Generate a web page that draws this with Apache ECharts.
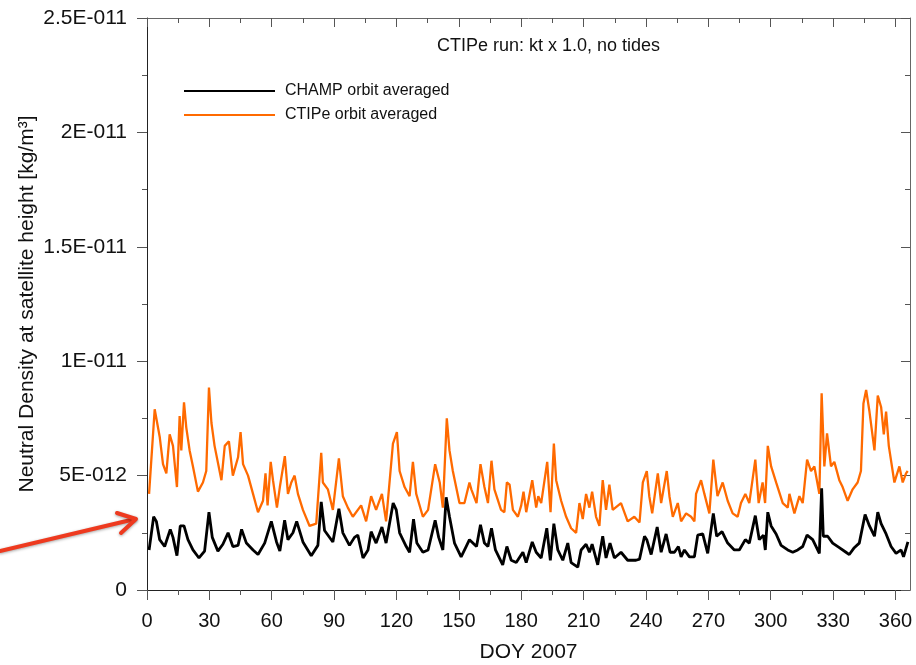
<!DOCTYPE html>
<html><head><meta charset="utf-8">
<script src="https://cdn.jsdelivr.net/npm/echarts@6/dist/echarts.min.js"></script>
<style>html,body{margin:0;padding:0;background:#fff}#c{width:916px;height:665px}</style>
</head><body><div id="c"></div>
<script>
const FONT = '"Liberation Sans", Arial, Helvetica, sans-serif';

// Tick definitions
const xMajorTicks = [0,30,60,90,120,150,180,210,240,270,300,330,360];
const xMinorTicks = [15,45,75,105,135,165,195,225,255,285,315,345];
const yTickValues = [0,5,10,15,20,25];            // in units of 1E-012
const yTickLabels = ['0','5E-012','1E-011','1.5E-011','2E-011','2.5E-011'];

// CTIPe orbit averaged (values in 1E-012 kg/m^3)
const ctipeDays = [1,3.7,6.1,7.7,9.3,10.9,12.5,14.4,15.7,16.5,17.8,18.9,20.5,22.1,24.5,26.9,28.5,29.8,31,32.5,35.8,37.4,39.4,41.3,43.8,45,46.2,48.6,51,53.4,55.8,57,58,59.5,60.6,62.5,63.9,66.3,67.8,69.4,71,72.6,75,78.2,81.4,83.8,84.6,87,89.4,92.3,94.2,96.6,99,103,105.4,107.8,110.2,113,115,118.3,120.2,121.5,123.9,126.3,127.9,129.5,132.7,135.2,138.6,140.8,142.3,144.2,145.5,147.1,150.3,152.7,155.1,156,158.5,160.4,162.3,164,165.7,167.1,170.3,171.9,173.1,174.4,176,178.4,180,181.1,182.4,185.3,187.2,188.2,189.6,192.5,194.1,195.7,196.8,199.2,201.6,204,206.4,208,209.6,211.2,212.8,214.1,216,217.6,219.2,220.8,222.4,224,228,231.2,234.4,236.9,238.5,240.4,241.6,243,245.7,247.3,250,251.3,252.9,255.3,256.9,259.3,261.7,263.3,264.1,266.5,268.1,270.5,272.4,274.4,276.9,279.3,281.7,284.1,285.7,287.8,289.7,292.6,294.2,296.1,297.3,298.6,300.2,302.6,305.8,308.2,309,311.4,313.8,315.4,317.5,319.4,321,323.4,324.5,325.8,327.1,329,330.6,333,334.6,337,339.4,341.8,343.4,344.6,345.9,347.5,349.9,351.5,353.1,354.4,355.5,356.8,359.5,361.9,363.5,365.1,365.9];
const ctipeVals = [4.2,7.9,6.7,5.5,5.1,6.8,6.3,4.5,7.6,6.1,8.2,7.1,6.1,5.4,4.3,4.7,5.2,8.85,7.3,6.3,4.8,6.3,6.5,5.0,5.8,6.9,5.5,5.0,4.2,3.4,3.9,5.1,3.7,5.6,4.8,3.6,4.5,5.85,4.2,4.7,5.0,4.2,3.5,2.8,2.9,6.0,4.7,4.4,3.5,5.75,4.1,3.6,3.2,3.7,3.0,4.1,3.5,4.2,3.0,6.4,6.9,5.2,4.5,4.1,5.6,4.2,3.2,3.5,5.5,4.7,3.6,7.5,6.1,5.2,3.8,3.8,4.7,4.4,3.8,5.5,4.5,3.8,5.65,4.4,3.5,3.4,4.7,4.6,3.5,3.2,3.7,4.3,3.4,4.8,3.6,4.1,3.8,5.6,3.4,6.4,4.8,3.9,3.2,2.7,2.5,3.8,3.1,4.2,3.6,4.3,3.2,2.8,4.8,3.5,4.6,3.5,3.8,3.0,3.2,2.95,4.7,5.2,4.1,3.35,5.1,3.8,5.2,4.1,3.2,3.8,3.0,3.35,3.2,3.0,4.2,4.8,4.2,3.35,5.7,4.1,4.7,3.9,3.35,3.2,3.8,4.2,3.8,5.7,3.8,4.7,3.8,6.3,5.4,4.7,3.8,3.6,4.2,3.35,4.1,3.8,5.7,5.2,5.4,4.2,8.6,5.4,6.85,5.4,5.6,4.8,4.5,3.9,4.4,4.7,5.2,8.15,8.74,7.8,6.1,8.5,8.0,6.8,7.8,6.3,4.7,5.4,4.7,5.1,5.2];

// CHAMP orbit averaged (values in 1E-012 kg/m^3)
const champDays = [1,3.2,4.5,6.1,8.5,11.2,12.5,14.4,16,17.8,19.7,22.1,25,27.7,29.8,31.4,34.1,36.5,39,41.3,43.8,45.5,47.8,51,53.4,56.6,59.8,62.3,63.9,66.2,67.8,70.2,72,75,79,82.2,83.8,85.4,89.4,92.3,94.2,97.4,99.8,101.4,103.9,106.3,107.8,110.2,113,115,118.4,119.9,121.5,124.7,126.3,128.2,129.8,132.7,135.2,138.6,140.3,142.3,143.9,145.5,147.9,151.1,153.5,155.1,158.5,160.4,162.3,164,165.7,167.6,171.1,173.1,175.2,177.6,180.8,182.4,185.3,187.2,189.6,192.3,194,195.7,197.6,200,202.4,204,207.2,208.8,211.2,212.8,214.1,216.8,219.2,220.8,222.7,224.8,228,231.2,235.2,236.9,239.3,240.4,242.5,245.4,247.3,249.7,251.6,253.7,255.6,256.9,258.5,260.9,263.3,264.9,267.3,269.7,272.4,274,276.6,279.3,282.5,284.9,287.8,289.7,292.6,294.5,296.5,297.4,298.6,300.2,302.6,305,308.2,310.6,313,315.4,317.5,320.2,323.4,324.5,325.3,327.4,329.8,333,336.2,337.8,340.2,342.6,345.4,347.5,349.9,351.5,353.1,355.5,357.9,360.3,362.7,363.9,366];
const champVals = [1.75,3.2,3.0,2.2,1.9,2.65,2.3,1.5,2.8,2.8,2.2,1.75,1.4,1.7,3.4,2.3,1.7,2.0,2.5,1.9,1.95,2.65,2.05,1.75,1.55,2.05,3.0,2.1,1.7,3.05,2.2,2.5,3.0,2.1,1.5,1.95,3.85,2.6,2.1,3.55,2.5,1.95,2.3,2.4,1.4,1.75,2.55,2.05,2.75,2.05,3.8,3.5,2.5,1.9,1.65,3.1,2.05,1.65,1.75,3.05,2.3,1.75,4.05,3.2,2.05,1.45,1.9,2.2,1.9,2.85,2.05,1.9,2.7,1.75,1.1,1.9,1.3,1.2,1.65,1.2,2.1,1.65,1.4,2.7,1.3,2.9,1.75,1.3,2.05,1.2,1.0,1.75,2.0,1.65,2.0,1.1,2.35,1.4,2.05,1.4,1.65,1.3,1.3,1.35,2.35,2.2,1.55,2.75,1.65,2.45,1.65,1.65,1.9,1.45,1.75,1.45,1.45,2.4,2.45,1.6,3.35,2.35,2.55,2.05,1.75,1.75,2.2,2.05,3.25,2.2,2.4,1.75,3.4,2.8,2.45,1.95,1.75,1.65,1.75,1.9,2.4,2.2,1.6,4.45,2.35,2.35,2.05,1.85,1.65,1.55,1.85,2.05,3.3,2.8,2.35,3.4,2.9,2.45,1.9,1.6,1.75,1.45,2.1];

const zip = (a, b) => a.map((d, i) => [d, b[i]]);

const chart = echarts.init(document.getElementById('c'), null, {renderer: 'canvas'});
const axisDark = '#222', axisGray = '#666', tickCol = '#555';

const option = {
  animation: false,
  backgroundColor: '#fff',
  textStyle: {fontFamily: FONT},
  title: {
    text: 'CTIPe run: kt x 1.0, no tides',
    left: 432, top: 32,
    textStyle: {fontFamily: FONT, fontSize: 18, fontWeight: 'normal', color: '#111'}
  },
  legend: {
    data: ['CHAMP orbit averaged', 'CTIPe orbit averaged'],
    orient: 'vertical',
    left: 178, top: 78,
    itemWidth: 91, itemHeight: 14, itemGap: 8,
    itemStyle: {opacity: 0},
    textStyle: {fontFamily: FONT, fontSize: 16, color: '#111', padding: [0, 0, 0, 5]}
  },
  grid: {left: 147, right: 6, top: 18, bottom: 75, containLabel: false, outerBoundsMode: 'none'},
  xAxis: [
    {
      type: 'value', position: 'bottom', min: 0, max: 367, interval: 30,
      axisLine: {show: true, onZero: false, lineStyle: {color: axisDark, width: 1}},
      axisTick: {show: true, customValues: xMajorTicks, length: 10, lineStyle: {color: tickCol}},
      axisLabel: {customValues: xMajorTicks, fontFamily: FONT, fontSize: 20, color: '#111', margin: 21},
      splitLine: {show: false},
      name: 'DOY 2007', nameLocation: 'middle', nameGap: 52, nameMoveOverlap: false,
      nameTextStyle: {fontFamily: FONT, fontSize: 21, color: '#111'}
    },
    {
      type: 'value', position: 'bottom', min: 0, max: 367,
      axisLine: {show: false, onZero: false},
      axisTick: {show: true, customValues: xMinorTicks, length: 5, lineStyle: {color: tickCol}},
      axisLabel: {show: false}, splitLine: {show: false}
    },
    {
      type: 'value', position: 'top', min: 0, max: 367,
      axisLine: {show: true, onZero: false, lineStyle: {color: axisGray, width: 1}},
      axisTick: {show: true, inside: true, customValues: xMajorTicks, length: 9, lineStyle: {color: tickCol}},
      axisLabel: {show: false}, splitLine: {show: false}
    },
    {
      type: 'value', position: 'top', min: 0, max: 367,
      axisLine: {show: false, onZero: false},
      axisTick: {show: true, inside: true, customValues: xMinorTicks, length: 5, lineStyle: {color: tickCol}},
      axisLabel: {show: false}, splitLine: {show: false}
    }
  ],
  yAxis: [
    {
      type: 'value', position: 'left', min: 0, max: 25, interval: 5,
      axisLine: {show: true, onZero: false, lineStyle: {color: axisDark, width: 1}},
      axisTick: {show: true, length: 10, lineStyle: {color: tickCol}},
      minorTick: {show: true, splitNumber: 2, length: 5, lineStyle: {color: tickCol}},
      axisLabel: {
        fontFamily: FONT, fontSize: 21, color: '#111', margin: 20,
        formatter: v => { const i = yTickValues.indexOf(Math.round(v * 1000) / 1000); return i >= 0 ? yTickLabels[i] : ''; }
      },
      splitLine: {show: false}, minorSplitLine: {show: false},
      name: 'Neutral Density at satellite height [kg/m³]',
      nameLocation: 'middle', nameGap: 109, nameMoveOverlap: false,
      nameTextStyle: {fontFamily: FONT, fontSize: 21, color: '#111'}
    },
    {
      type: 'value', position: 'right', min: 0, max: 25, interval: 5,
      axisLine: {show: true, onZero: false, lineStyle: {color: axisGray, width: 1}},
      axisTick: {show: true, inside: true, length: 9, lineStyle: {color: tickCol}},
      minorTick: {show: true, splitNumber: 2, length: 5, lineStyle: {color: tickCol}},
      axisLabel: {show: false}, splitLine: {show: false}
    }
  ],
  series: [
    {
      name: 'CTIPe orbit averaged', type: 'line', xAxisIndex: 0, yAxisIndex: 0,
      data: zip(ctipeDays, ctipeVals), symbol: 'none', showSymbol: false,
      lineStyle: {color: '#FF6A00', width: 2.3}, itemStyle: {color: '#FF6A00'}, z: 2
    },
    {
      name: 'CHAMP orbit averaged', type: 'line', xAxisIndex: 0, yAxisIndex: 0,
      data: zip(champDays, champVals), symbol: 'none', showSymbol: false,
      lineStyle: {color: '#000', width: 2.8}, itemStyle: {color: '#000'}, z: 3
    }
  ],
  graphic: [
    {
      type: 'group', z: 100,
      children: [
        {type: 'line', shape: {x1: 0, y1: 551, x2: 135, y2: 519},
         style: {stroke: '#EE3A1F', lineWidth: 4, lineCap: 'round', shadowBlur: 3, shadowColor: 'rgba(0,0,0,0.35)', shadowOffsetY: 1}},
        {type: 'polyline', shape: {points: [[117, 513], [136, 519], [121, 533]]},
         style: {stroke: '#EE3A1F', lineWidth: 4, lineCap: 'round', lineJoin: 'round', fill: null, shadowBlur: 3, shadowColor: 'rgba(0,0,0,0.35)', shadowOffsetY: 1}}
      ]
    }
  ]
};
chart.setOption(option);
</script>
</body></html>
